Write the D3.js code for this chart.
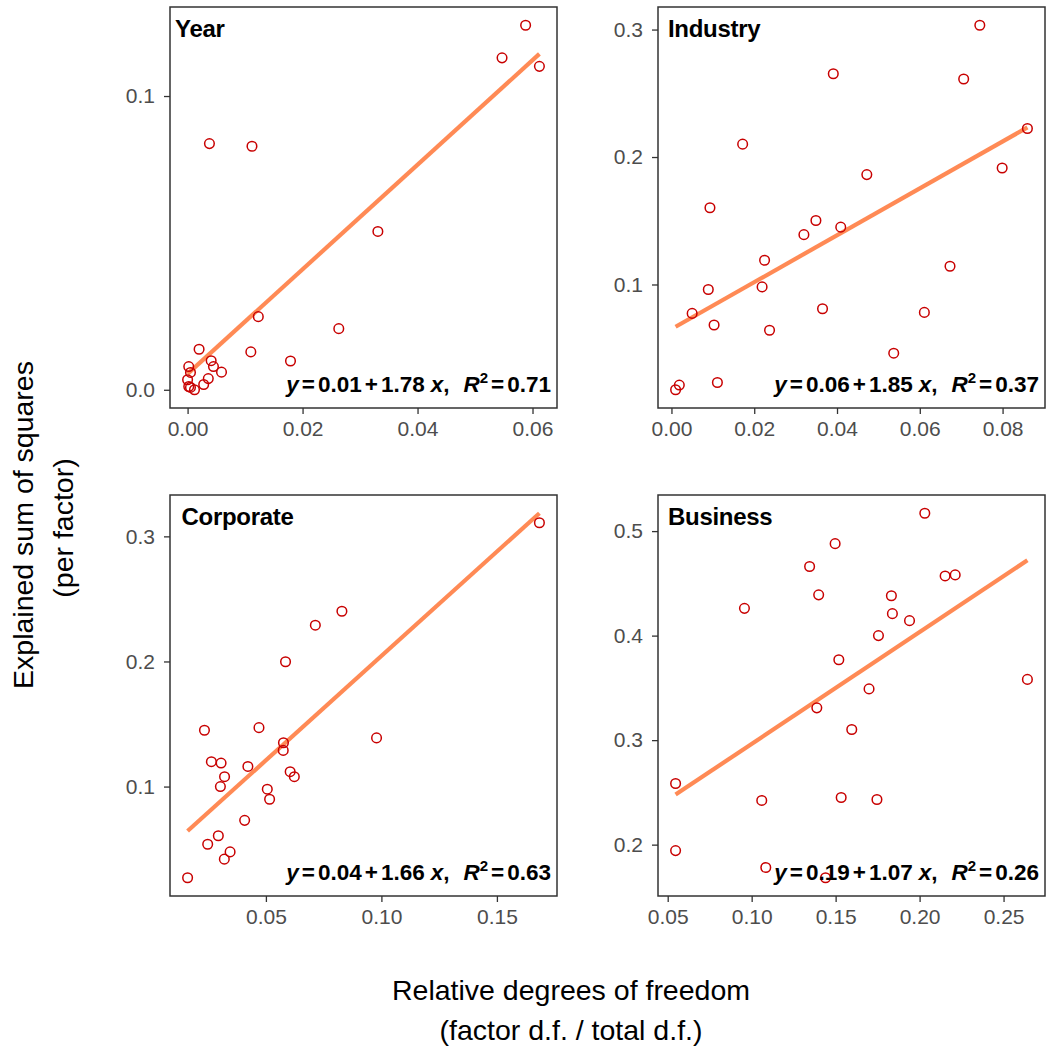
<!DOCTYPE html>
<html>
<head>
<meta charset="utf-8">
<script src="https://cdn.jsdelivr.net/npm/d3@7"></script>
<style>
  html, body { margin: 0; padding: 0; background: #fff; }
  svg { display: block; font-family: "Liberation Sans", Arial, Helvetica, sans-serif; }
</style>
</head>
<body>
<svg id="chart" width="1048" height="1050"></svg>
<script>
// ---------------- data ----------------
const panelNames = ["Year", "Industry", "Corporate", "Business"];

const yearX = [0.0588,0.0547,0.0612,0.0038,0.0112,0.0331,0.0123,0.0263,0.0020,0.0110,0.0179,0.0041,0.0045,0.0059,0.0002,0.0005,0.0036,0.0028,0.0000,0.0002,0.0005,0.0012];
const yearY = [0.1241,0.1130,0.1101,0.0838,0.0829,0.0539,0.0249,0.0208,0.0138,0.0129,0.0098,0.0099,0.0079,0.0060,0.0079,0.0059,0.0038,0.0018,0.0034,0.0011,0.0008,0.0000];

const industryX = [0.0745,0.0391,0.0706,0.0860,0.0172,0.0799,0.0472,0.0093,0.0349,0.0409,0.0320,0.0225,0.0673,0.0089,0.0219,0.0050,0.0365,0.0611,0.0103,0.0237,0.0537,0.0111,0.0019,0.0010];
const industryY = [0.3034,0.2653,0.2612,0.2224,0.2101,0.1914,0.1862,0.1602,0.1502,0.1450,0.1391,0.1190,0.1143,0.0961,0.0981,0.0773,0.0810,0.0781,0.0682,0.0641,0.0461,0.0231,0.0211,0.0174];

const corporateX = [0.1684,0.0829,0.0714,0.0585,0.0470,0.0234,0.0979,0.0576,0.0575,0.0264,0.0306,0.0422,0.0321,0.0605,0.0623,0.0303,0.0506,0.0516,0.0408,0.0294,0.0248,0.0345,0.0320,0.0161];
const corporateY = [0.3109,0.2401,0.2290,0.1998,0.1471,0.1450,0.1389,0.1350,0.1289,0.1199,0.1188,0.1161,0.1079,0.1119,0.1079,0.1000,0.0979,0.0899,0.0730,0.0607,0.0539,0.0478,0.0420,0.0271];

const businessX = [0.2031,0.1497,0.1345,0.2152,0.2212,0.1399,0.1832,0.0957,0.1838,0.1940,0.1755,0.1519,0.2642,0.1699,0.1388,0.1596,0.0547,0.1060,0.1533,0.1746,0.0547,0.1084,0.1440];
const businessY = [0.5171,0.4880,0.4661,0.4571,0.4581,0.4390,0.4381,0.4261,0.4210,0.4143,0.4000,0.3769,0.3581,0.3490,0.3309,0.3102,0.2585,0.2423,0.2451,0.2432,0.1943,0.1781,0.1683];

// regression fits (as drawn)
const fitIntercept = [0.0054, 0.065, 0.0376, 0.1894];
const fitSlope = [1.78, 1.84, 1.668, 1.07];

// equation labels
const eqIntercept = ["0.01", "0.06", "0.04", "0.19"];
const eqSlope = ["1.78", "1.85", "1.66", "1.07"];
const eqR2 = ["0.71", "0.37", "0.63", "0.26"];

// ticks
const xTicks = [[0, 0.02, 0.04, 0.06], [0, 0.02, 0.04, 0.06, 0.08], [0.05, 0.10, 0.15], [0.05, 0.10, 0.15, 0.20, 0.25]];
const yTicks = [[0, 0.1], [0.1, 0.2, 0.3], [0.1, 0.2, 0.3], [0.2, 0.3, 0.4, 0.5]];
const xTickFormat = [".2f", ".2f", ".2f", ".2f"];
const yTickFormat = [".1f", ".1f", ".1f", ".1f"];

const xTitle = ["Relative degrees of freedom", "(factor d.f. / total d.f.)"];
const yTitle = ["Explained sum of squares", "(per factor)"];

const seriesX = [yearX, industryX, corporateX, businessX];
const seriesY = [yearY, industryY, corporateY, businessY];

// ---------------- layout ----------------
const colX = [170, 658];
const rowY = [7, 495];
const pw = 387, ph = 401;
const labelDx = [5, 10, 11.5, 10];

const pointColor = "#C80000";
const lineColor = "#FF8A55";
const axisColor = "#333333";
const tickTextColor = "#4D4D4D";

const svg = d3.select("#chart");
svg.append("rect").attr("width", 1048).attr("height", 1050).attr("fill", "#fff");

function expand(ext) {
  const r = ext[1] - ext[0];
  return [ext[0] - 0.05 * r, ext[1] + 0.05 * r];
}

panelNames.forEach((name, i) => {
  const x0 = colX[i % 2], y0 = rowY[Math.floor(i / 2)];
  const xs = seriesX[i], ys = seriesY[i];
  const xExt = d3.extent(xs);
  const lineY = xExt.map(v => fitIntercept[i] + fitSlope[i] * v);
  const yExt = d3.extent(ys.concat(lineY));
  const x = d3.scaleLinear().domain(expand(xExt)).range([x0, x0 + pw]);
  const y = d3.scaleLinear().domain(expand(yExt)).range([y0 + ph, y0]);

  const g = svg.append("g");

  g.append("rect").attr("x", x0).attr("y", y0).attr("width", pw).attr("height", ph)
    .attr("fill", "#fff");

  const xa = g.append("g").attr("transform", `translate(0,${y0 + ph})`)
    .call(d3.axisBottom(x).tickValues(xTicks[i]).tickFormat(d3.format(xTickFormat[i])).tickSize(6).tickPadding(7.5));
  const ya = g.append("g").attr("transform", `translate(${x0},0)`)
    .call(d3.axisLeft(y).tickValues(yTicks[i]).tickFormat(d3.format(yTickFormat[i])).tickSize(6).tickPadding(9));
  [xa, ya].forEach(a => {
    a.select(".domain").remove();
    a.selectAll(".tick line").attr("stroke", axisColor).attr("stroke-width", 1.3);
    a.selectAll(".tick text").attr("fill", tickTextColor).attr("font-size", 21)
      .attr("font-family", "'Liberation Sans', Arial, sans-serif");
  });

  const clipId = "clip" + i;
  svg.append("clipPath").attr("id", clipId).append("rect")
    .attr("x", x0).attr("y", y0).attr("width", pw).attr("height", ph);
  const lineData = xExt.map((v, k) => ({ x: v, y: lineY[k] }));
  g.append("path").datum(lineData)
    .attr("clip-path", `url(#${clipId})`)
    .attr("d", d3.line().x(d => x(d.x)).y(d => y(d.y)))
    .attr("stroke", lineColor).attr("stroke-width", 4.2).attr("fill", "none");

  g.append("g").selectAll("circle").data(xs.map((v, k) => ({ x: v, y: ys[k] })))
    .join("circle")
    .attr("cx", d => x(d.x)).attr("cy", d => y(d.y)).attr("r", 4.8)
    .attr("fill", "none").attr("stroke", pointColor).attr("stroke-width", 1.5);

  g.append("rect").attr("x", x0).attr("y", y0).attr("width", pw).attr("height", ph)
    .attr("fill", "none").attr("stroke", axisColor).attr("stroke-width", 1.5);

  g.append("text").attr("x", x0 + labelDx[i]).attr("y", y0 + 29.5)
    .attr("font-size", 24).attr("font-weight", "bold").attr("fill", "#000")
    .attr("letter-spacing", -0.3)
    .text(name);

  const eq = g.append("text").attr("x", x0 + pw - 6).attr("y", y0 + ph - 16.5)
    .attr("text-anchor", "end").attr("font-size", 22.5).attr("font-weight", "bold")
    .attr("fill", "#000");
  eq.append("tspan").attr("font-style", "italic").text("y");
  eq.append("tspan").attr("dx", 3).text("=");
  eq.append("tspan").attr("dx", 3).text(eqIntercept[i]);
  eq.append("tspan").attr("dx", 3).text("+");
  eq.append("tspan").attr("dx", 3).text(eqSlope[i]);
  eq.append("tspan").attr("dx", 6).attr("font-style", "italic").text("x");
  eq.append("tspan").text(",");
  eq.append("tspan").attr("dx", 14).attr("font-style", "italic").text("R");
  eq.append("tspan").attr("dy", -9).attr("font-size", 15).text("2");
  eq.append("tspan").attr("dy", 9).attr("dx", 3).text("=");
  eq.append("tspan").attr("dx", 3).text(eqR2[i]);
});

const xt = svg.append("text").attr("text-anchor", "middle").attr("font-size", 28.5).attr("fill", "#000");
xt.append("tspan").attr("x", 571).attr("y", 1000).text(xTitle[0]);
xt.append("tspan").attr("x", 571).attr("y", 1040).text(xTitle[1]);

const yt = svg.append("text").attr("text-anchor", "middle").attr("font-size", 28.5).attr("fill", "#000")
  .attr("transform", "rotate(-90)");
yt.append("tspan").attr("x", -525).attr("y", 33).text(yTitle[0]);
yt.append("tspan").attr("x", -528).attr("y", 73).text(yTitle[1]);
</script>
</body>
</html>
